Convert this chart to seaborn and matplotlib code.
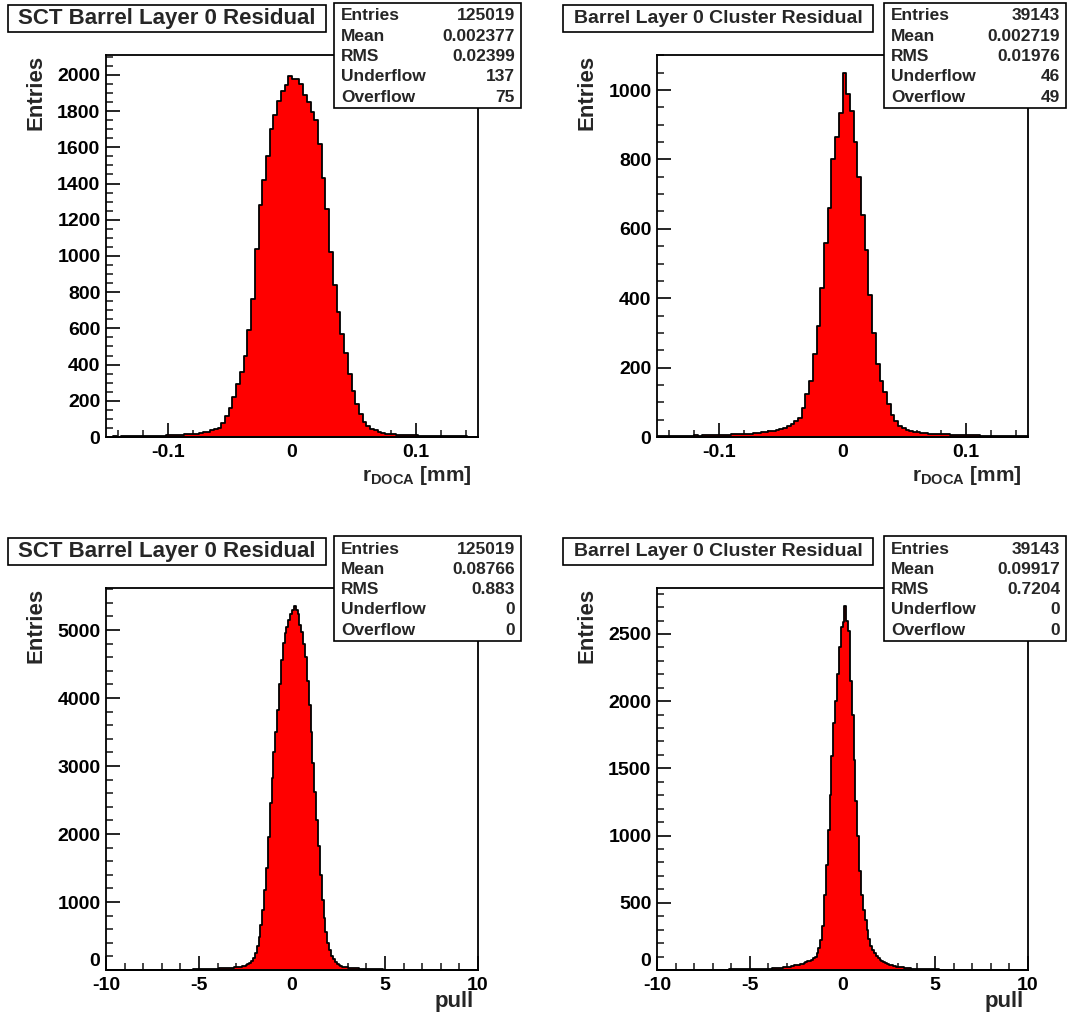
import numpy as np
import pandas as pd
import matplotlib
matplotlib.use('Agg')
import matplotlib.pyplot as plt
import seaborn as sns
from matplotlib.patches import Rectangle
from matplotlib.ticker import MultipleLocator

sns.set_theme(style='white')
plt.rcParams['font.family'] = ['Liberation Sans', 'DejaVu Sans']
plt.rcParams['font.weight'] = 'bold'
plt.rcParams['axes.unicode_minus'] = False
plt.rcParams['xtick.direction'] = 'in'
plt.rcParams['ytick.direction'] = 'in'
plt.rcParams['mathtext.fontset'] = 'custom'
plt.rcParams['mathtext.rm'] = 'Liberation Sans:bold'
plt.rcParams['mathtext.bf'] = 'Liberation Sans:bold'
plt.rcParams['mathtext.default'] = 'bf'

#Residual histograms, 100 bins from -0.15 to 0.15 mm (counts per 0.001 mm)
resid_range = (-0.15, 0.15)
sct_resid = [2, 2, 3, 2, 3, 3, 4, 4, 5, 4,
             5, 6, 6, 7, 7, 8, 9, 9, 10, 11,
             12, 14, 15, 17, 19, 22, 25, 30, 36, 42,
             52, 75, 115, 160, 220, 295, 360, 450, 590, 760,
             1040, 1280, 1420, 1550, 1700, 1780, 1855, 1910, 1945, 1995,
             1980, 1975, 1950, 1890, 1850, 1795, 1750, 1620, 1430, 1260,
             1020, 840, 690, 570, 465, 350, 255, 180, 125, 85,
             58, 45, 36, 28, 24, 19, 15, 14, 13, 12,
             11, 10, 9, 9, 8, 7, 7, 6, 6, 5,
             5, 4, 4, 4, 3, 3, 3, 2, 2, 2]
cluster_resid = [2, 3, 2, 3, 3, 3, 4, 3, 4, 4,
                 5, 4, 5, 5, 6, 5, 6, 7, 6, 7,
                 8, 8, 9, 9, 10, 10, 11, 12, 13, 14,
                 16, 18, 20, 23, 27, 32, 38, 46, 55, 85,
                 125, 160, 240, 320, 430, 560, 660, 800, 865, 935,
                 1050, 990, 940, 850, 750, 640, 540, 410, 300, 210,
                 160, 130, 95, 62, 45, 33, 26, 20, 17, 15,
                 13, 12, 11, 10, 10, 9, 9, 8, 8, 7,
                 7, 7, 6, 6, 5, 5, 5, 4, 4, 4,
                 3, 3, 3, 3, 2, 3, 2, 2, 2, 2]

#Pull histograms, 200 bins from -10 to 10
pull_range = (-10, 10)
sct_pull = ([0] * 30 +
            [1, 0, 1, 1, 1, 2, 1, 2, 2, 3, 3, 4, 4, 5, 5, 6, 7, 8, 9, 10,
             11, 12, 13, 14, 15, 16, 17, 18, 19, 20] +
            [22, 24, 25, 27, 28, 30, 32, 34, 36, 38,
             40, 45, 50, 55, 62, 72, 85, 100, 128, 175,
             245, 350, 490, 660, 880, 1180, 1500, 1950, 2450, 2830,
             3200, 3500, 3820, 4200, 4560, 4810, 4950, 5050, 5150, 5230,
             5300, 5350, 5290, 5230, 5080, 4970, 4800, 4600, 4250, 3900,
             3500, 3040, 2620, 2200, 1820, 1400, 1030, 760, 560, 400,
             290, 210, 160, 115, 90, 72, 60, 50, 44, 40,
             36, 33, 30, 27, 25, 23, 21, 19, 18, 16] +
            [15, 14, 13, 12, 11, 10, 9, 8, 8, 7, 6, 6, 5, 5, 4, 4, 3, 3, 3, 2,
             2, 2, 1, 1, 1, 1, 1, 0, 1, 0] +
            [0] * 30)
cluster_pull = ([0] * 25 +
                [1, 0, 1, 1, 1, 1, 2, 1, 2, 2, 2, 3, 3, 3, 4, 4, 4, 5, 5, 5,
                 6, 6, 6, 7, 7, 7, 8, 8, 9, 9, 9, 10, 10, 10, 10] +
                [10, 11, 12, 13, 14, 15, 17, 18, 20, 21,
                 23, 25, 28, 31, 34, 37, 40, 44, 48, 53,
                 58, 64, 70, 77, 86, 100, 130, 165, 220, 330,
                 560, 780, 1040, 1300, 1590, 1840, 2000, 2200, 2400, 2550,
                 2590, 2710, 2600, 2520, 2150, 1900, 1560, 1260, 1000, 740,
                 560, 450, 370, 300, 230, 180, 150, 125, 105, 88,
                 74, 66, 58, 52, 46, 40, 36, 32, 29, 26,
                 23, 21, 19, 17, 16, 14, 12, 11, 10, 9] +
                [8, 8, 7, 7, 6, 6, 5, 5, 5, 4, 4, 4, 3, 3, 3, 3, 2, 2, 2, 2,
                 2, 1, 1, 1, 1, 1, 1, 1, 0, 1, 0, 1, 0, 0, 0] +
                [0] * 25)

titles = ['SCT Barrel Layer 0 Residual', 'Barrel Layer 0 Cluster Residual',
          'SCT Barrel Layer 0 Residual', 'Barrel Layer 0 Cluster Residual']
stat_names = ['Entries', 'Mean', 'RMS', 'Underflow', 'Overflow']
stat_values = [['125019', '0.002377', '0.02399', '137', '75'],
               ['39143', '0.002719', '0.01976', '46', '49'],
               ['125019', '0.08766', '0.883', '0', '0'],
               ['39143', '0.09917', '0.7204', '0', '0']]
resid_xticks = [-0.1, 0, 0.1]
resid_xlabels = ['-0.1', '0', '0.1']
pull_xticks = [-10, -5, 0, 5, 10]
pull_xlabels = ['-10', '-5', '0', '5', '10']

W, H = 1068, 1028
fig = plt.figure(figsize=(W / 100, H / 100), dpi=100)


def px_rect(x0, y0, x1, y1):
    return [x0 / W, 1 - y1 / H, (x1 - x0) / W, (y1 - y0) / H]


def pave(x0, y0, x1, y1):
    r = Rectangle((x0 / W, 1 - y1 / H), (x1 - x0) / W, (y1 - y0) / H,
                  transform=fig.transFigure, facecolor='white',
                  edgecolor='black', lw=1.2, zorder=5)
    fig.add_artist(r)


def draw_panel(counts, rng, ax_box, title_box, stat_box, title, title_size,
               stats, ymax, ymaj, ymin, xticks, xlabels, xminor, xlabel,
               xl_pos, raise_zero):
    ax = fig.add_axes(px_rect(*ax_box))
    n = len(counts)
    edges = np.linspace(rng[0], rng[1], n + 1)
    df = pd.DataFrame({'x': (edges[:-1] + edges[1:]) / 2, 'n': counts})
    sns.histplot(data=df, x='x', weights='n', bins=n, binrange=rng,
                 element='step', fill=True, color='red', alpha=1,
                 edgecolor='black', linewidth=1.3, ax=ax)
    ax.set_xlim(rng)
    ax.set_ylim(0, ymax)
    ax.set_xticks(xticks, labels=xlabels)
    ax.yaxis.set_major_locator(MultipleLocator(ymaj))
    ax.yaxis.set_minor_locator(MultipleLocator(ymin))
    ax.xaxis.set_minor_locator(MultipleLocator(xminor))
    ax.tick_params(which='major', direction='in', length=10, width=1.2,
                   bottom=True, left=True, top=False, right=False,
                   labelsize=14, colors='black')
    ax.tick_params(which='minor', direction='in', length=5, width=1.2,
                   bottom=True, left=True, top=False, right=False)
    ax.tick_params(axis='x', pad=5)
    ax.tick_params(axis='y', pad=4)
    for s in ax.spines.values():
        s.set_color('black')
        s.set_linewidth(1.3)
    ax.set_ylabel('Entries', fontsize=16, fontweight='bold', loc='top')
    ax.yaxis.set_label_coords(-0.16, 1.0)
    ax.set_xlabel(xlabel, fontsize=xl_pos[2], fontweight='bold', loc='right')
    ax.xaxis.set_label_coords(xl_pos[0], xl_pos[1])

    if raise_zero:
        # ROOT puts the y "0" just above the x "-10"
        fig.canvas.draw()
        for lab in ax.get_yticklabels():
            if lab.get_text() == '0':
                lab.set_verticalalignment('bottom')

    pave(*title_box)
    fig.text((title_box[0] + title_box[2]) / 2 / W,
             1 - (title_box[1] + title_box[3]) / 2 / H, title,
             ha='center', va='center', fontsize=title_size,
             fontweight='bold', zorder=6)
    pave(*stat_box)
    for i, (name, val) in enumerate(zip(stat_names, stats)):
        yy = 1 - (stat_box[1] + 13 + 20.3 * i) / H
        fig.text((stat_box[0] + 7) / W, yy, name, ha='left', va='center',
                 fontsize=12.5, fontweight='bold', zorder=6)
        fig.text((stat_box[2] - 6) / W, yy, val, ha='right', va='center',
                 fontsize=12.5, fontweight='bold', zorder=6)
    return ax


rlabel = r'r$_{\mathbf{DOCA}}$ [mm]'
draw_panel(sct_resid, resid_range, (106, 55, 478, 437), (8, 5, 326, 32),
           (334, 3, 521, 108), titles[0], 16, stat_values[0],
           2110, 200, 50, resid_xticks, resid_xlabels, 0.02, rlabel,
           (0.984, -0.07, 15), False)
draw_panel(cluster_resid, resid_range, (657, 55, 1028, 437), (563, 5, 873, 32),
           (884, 3, 1066, 108), titles[1], 14, stat_values[1],
           1101, 200, 50, resid_xticks, resid_xlabels, 0.02, rlabel,
           (0.984, -0.07, 15), False)
draw_panel(sct_pull, pull_range, (106, 588, 478, 970), (8, 538, 326, 565),
           (334, 536, 521, 641), titles[2], 16, stat_values[2],
           5618, 1000, 200, pull_xticks, pull_xlabels, 1, 'pull',
           (0.99, -0.055, 16), True)
draw_panel(cluster_pull, pull_range, (657, 588, 1028, 970), (563, 538, 873, 565),
           (884, 536, 1066, 641), titles[3], 14, stat_values[3],
           2842, 500, 100, pull_xticks, pull_xlabels, 1, 'pull',
           (0.99, -0.055, 16), True)

plt.savefig('out.png', dpi=100)
